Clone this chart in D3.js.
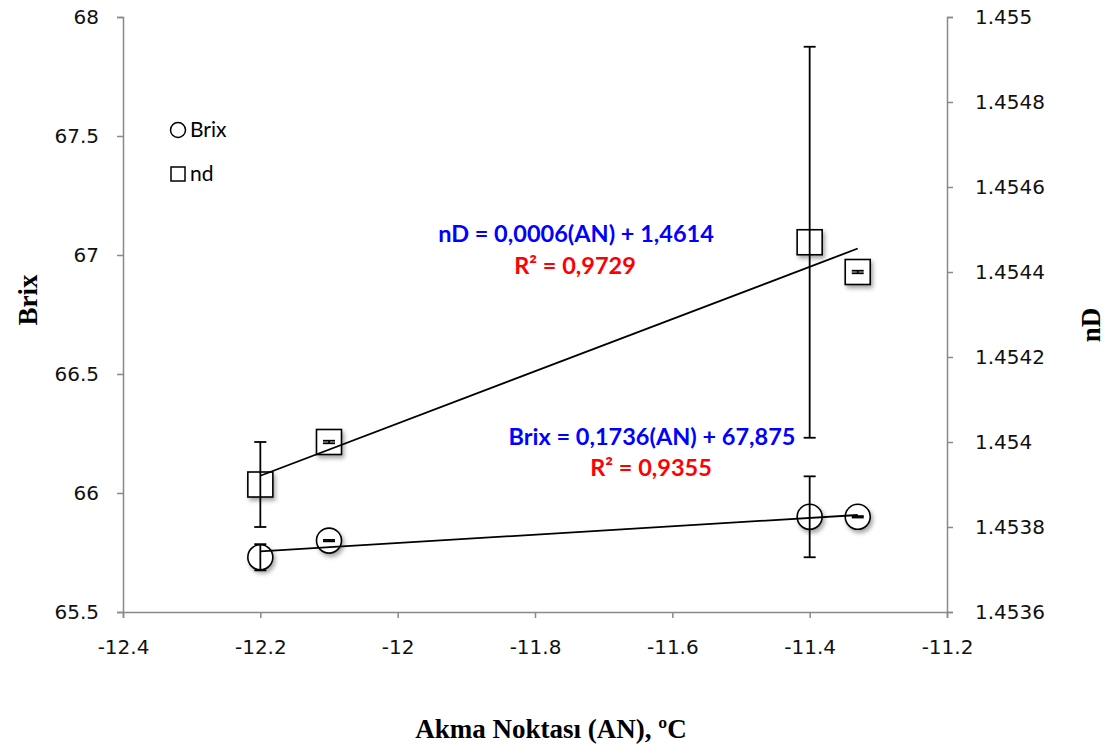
<!doctype html>
<html>
<head>
<meta charset="utf-8">
<title>Brix / nD vs Akma Noktasi</title>
<script src="https://d3js.org/d3.v7.min.js"></script>
<style>
  html, body { margin: 0; background: #fff; }
  svg { display: block; }
  .axis path, .axis line { stroke: #898989; stroke-width: 1.5; }
  .axis text { font-family: "DejaVu Sans", sans-serif; font-size: 20px; fill: #111; }
  .title { font-family: "Liberation Serif", serif; font-weight: bold; font-size: 27px; fill: #000; }
  .eq { font-family: Lato, "Open Sans", sans-serif; font-weight: bold; font-size: 23.5px; }
  .legend { font-family: Lato, "Open Sans", sans-serif; font-size: 21px; fill: #000; }
</style>
</head>
<body>
<svg id="chart" width="1116" height="754"></svg>
<script>
// --- data ---
var an = [-12.2, -12.1, -11.4, -11.33];
var brix = [65.73, 65.80, 65.90, 65.90];
var brixErr = [0.055, 0.003, 0.17, 0.003];
var nd = [1.4539, 1.4540, 1.45447, 1.4544];
var ndErr = [0.0001, 0.000003, 0.00046, 0.000003];

var xTicks = [-12.4, -12.2, -12, -11.8, -11.6, -11.4, -11.2];
var xTickLabels = ["-12.4", "-12.2", "-12", "-11.8", "-11.6", "-11.4", "-11.2"];
var yTicks = [65.5, 66, 66.5, 67, 67.5, 68];
var yTickLabels = ["65.5", "66", "66.5", "67", "67.5", "68"];
var y2Ticks = [1.4536, 1.4538, 1.454, 1.4542, 1.4544, 1.4546, 1.4548, 1.455];
var y2TickLabels = ["1.4536", "1.4538", "1.454", "1.4542", "1.4544", "1.4546", "1.4548", "1.455"];

var svg = d3.select("#chart");
var pLeft = 123, pRight = 947, pTop = 17, pBottom = 612;

var x = d3.scaleLinear().domain([-12.4, -11.2]).range([pLeft, pRight]);
var y = d3.scaleLinear().domain([65.5, 68]).range([pBottom, pTop]);
var y2 = d3.scaleLinear().domain([1.4536, 1.455]).range([pBottom, pTop]);

// drop shadow for markers
var defs = svg.append("defs");
var f = defs.append("filter").attr("id", "shadow")
    .attr("x", "-50%").attr("y", "-50%").attr("width", "200%").attr("height", "200%");
f.append("feDropShadow").attr("dx", 2).attr("dy", 3).attr("stdDeviation", 2)
    .attr("flood-color", "#000").attr("flood-opacity", 0.35);

// axes
svg.append("g").attr("class", "axis")
    .attr("transform", "translate(0," + pBottom + ")")
    .call(d3.axisBottom(x).tickValues(xTicks).tickSize(6).tickPadding(22)
        .tickFormat(function (d, i) { return xTickLabels[i]; }));
svg.append("g").attr("class", "axis")
    .attr("transform", "translate(" + pLeft + ",0)")
    .call(d3.axisLeft(y).tickValues(yTicks).tickSize(6).tickPadding(18)
        .tickFormat(function (d, i) { return yTickLabels[i]; }));
svg.append("g").attr("class", "axis")
    .attr("transform", "translate(" + pRight + ",0)")
    .call(d3.axisRight(y2).tickValues(y2Ticks).tickSize(6).tickPadding(22)
        .tickFormat(function (d, i) { return y2TickLabels[i]; }));

// markers
var brixPts = an.map(function (d, i) { return { x: d, y: brix[i], e: brixErr[i] }; });
var ndPts = an.map(function (d, i) { return { x: d, y: nd[i], e: ndErr[i] }; });

svg.append("g").selectAll("circle").data(brixPts).enter().append("circle")
    .attr("cx", function (d) { return x(d.x); })
    .attr("cy", function (d) { return y(d.y); })
    .attr("r", 12.5)
    .attr("fill", "#fff").attr("stroke", "#000").attr("stroke-width", 1.6)
    .attr("filter", "url(#shadow)");

svg.append("g").selectAll("rect").data(ndPts).enter().append("rect")
    .attr("x", function (d) { return x(d.x) - 12.5; })
    .attr("y", function (d) { return y2(d.y) - 12.5; })
    .attr("width", 25).attr("height", 25)
    .attr("fill", "#fff").attr("stroke", "#000").attr("stroke-width", 1.6)
    .attr("filter", "url(#shadow)");

// least squares trend lines
function fit(xs, ys) {
  var mx = d3.mean(xs), my = d3.mean(ys);
  var sxy = d3.sum(xs, function (v, i) { return (v - mx) * (ys[i] - my); });
  var sxx = d3.sum(xs, function (v) { return (v - mx) * (v - mx); });
  var b = sxy / sxx;
  return function (v) { return my + b * (v - mx); };
}
var fb = fit(an, brix), fn = fit(an, nd);
var x0 = d3.min(an), x1 = d3.max(an);
svg.append("line")
    .attr("x1", x(x0)).attr("y1", y(fb(x0))).attr("x2", x(x1)).attr("y2", y(fb(x1)))
    .attr("stroke", "#000").attr("stroke-width", 1.8);
svg.append("line")
    .attr("x1", x(x0)).attr("y1", y2(fn(x0))).attr("x2", x(x1)).attr("y2", y2(fn(x1)))
    .attr("stroke", "#000").attr("stroke-width", 1.8);

// error bars
function errorBars(pts, sc) {
  var g = svg.append("g").attr("stroke", "#000").attr("stroke-width", 1.8);
  pts.forEach(function (d) {
    var cx = x(d.x), yt = sc(d.y + d.e), yb = sc(d.y - d.e);
    g.append("line").attr("x1", cx).attr("x2", cx).attr("y1", yt).attr("y2", yb);
    g.append("line").attr("x1", cx - 6).attr("x2", cx + 6).attr("y1", yt).attr("y2", yt);
    g.append("line").attr("x1", cx - 6).attr("x2", cx + 6).attr("y1", yb).attr("y2", yb);
  });
}
errorBars(brixPts, y);
errorBars(ndPts, y2);

// legend
svg.append("circle").attr("cx", 178).attr("cy", 130).attr("r", 7.5)
    .attr("fill", "#fff").attr("stroke", "#000").attr("stroke-width", 1.5);
svg.append("text").attr("class", "legend").attr("x", 190).attr("y", 137).text("Brix");
svg.append("rect").attr("x", 171).attr("y", 167).attr("width", 14).attr("height", 14)
    .attr("fill", "#fff").attr("stroke", "#000").attr("stroke-width", 1.5);
svg.append("text").attr("class", "legend").attr("x", 190).attr("y", 181).text("nd");

// equations
function eq(txt, cx, by, col) {
  svg.append("text").attr("class", "eq").attr("x", cx).attr("y", by)
      .attr("text-anchor", "middle").attr("fill", col).text(txt);
}
eq("nD = 0,0006(AN) + 1,4614", 576, 242, "#0000ff");
eq("R² = 0,9729", 575, 274, "#ff0000");
eq("Brix = 0,1736(AN) + 67,875", 652, 445, "#0000ff");
eq("R² = 0,9355", 651, 476, "#ff0000");

// axis titles
svg.append("text").attr("class", "title")
    .attr("transform", "translate(37,300) rotate(-90)")
    .attr("text-anchor", "middle").text("Brix");
svg.append("text").attr("class", "title")
    .attr("transform", "translate(1100,325) rotate(-90)")
    .attr("text-anchor", "middle").text("nD");
svg.append("text").attr("class", "title")
    .attr("x", 551).attr("y", 738).attr("text-anchor", "middle")
    .text("Akma Noktası (AN), ºC");
</script>
</body>
</html>
